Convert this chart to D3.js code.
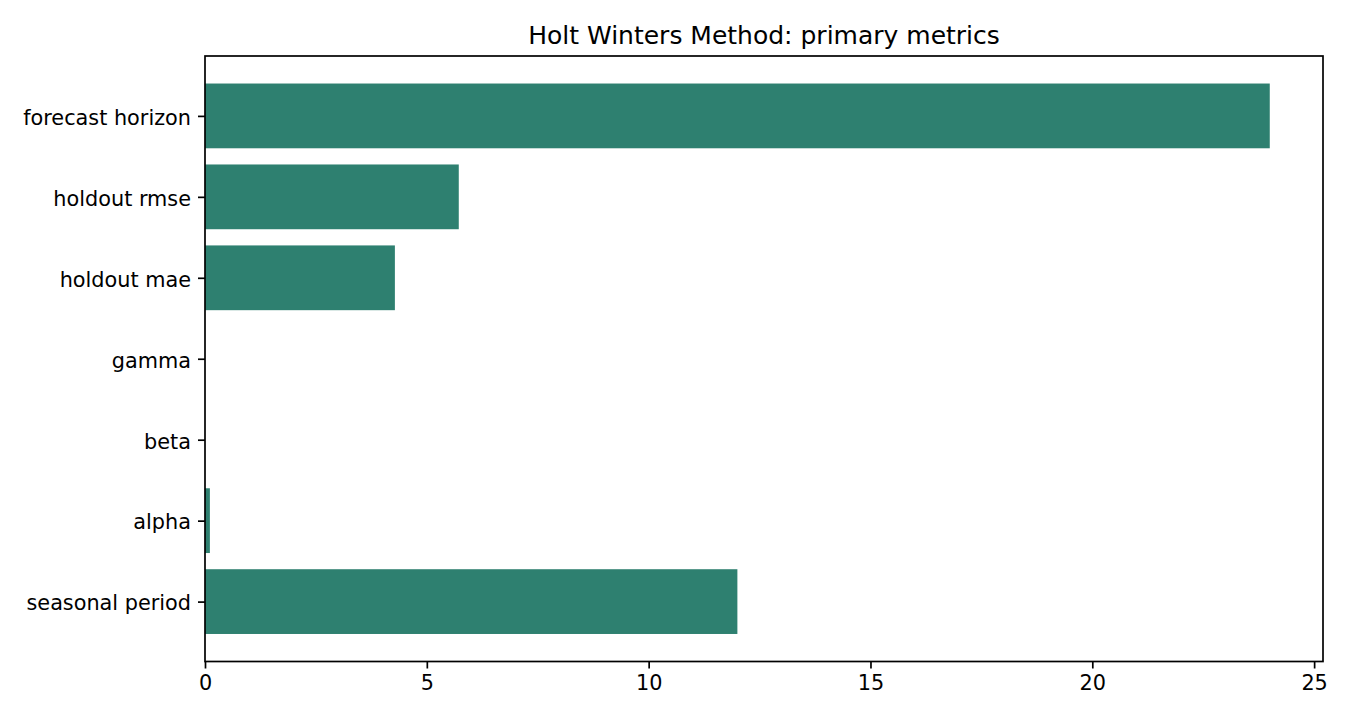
<!DOCTYPE html>
<html>
<head>
<meta charset="utf-8">
<script src="https://cdn.jsdelivr.net/npm/d3@7"></script>
<style>
  body { margin: 0; background: #fff; }
  svg { display: block; font-family: "DejaVu Sans", sans-serif; }
</style>
</head>
<body>
<svg id="chart" width="1350" height="720"></svg>
<script>
// metric names, top to bottom as drawn
const metrics = ["forecast horizon", "holdout rmse", "holdout mae", "gamma", "beta", "alpha", "seasonal period"];
const values = [24, 5.72, 4.28, 0.0, 0.0, 0.11, 12];
const xTicks = [0, 5, 10, 15, 20, 25];

const width = 1350;
const height = 720;
const margin = { top: 56, right: 27, bottom: 58.5, left: 205 };
const barColor = "#2e8070";

const svg = d3.select("#chart");
const plotW = width - margin.left - margin.right;
const plotH = height - margin.top - margin.bottom;

const g = svg.append("g")
    .attr("transform", `translate(${margin.left},${margin.top})`);

// x: 0 .. max + 5% like matplotlib
const x = d3.scaleLinear()
    .domain([0, d3.max(values) * 1.05])
    .range([0, plotW]);

// y: category index, bars 0.8 tall, 5% margins
const n = metrics.length;
const lo = -0.4, hi = (n - 1) + 0.4;
const pad = (hi - lo) * 0.05;
const y = d3.scaleLinear()
    .domain([lo - pad, hi + pad])
    .range([0, plotH]);

g.selectAll("rect.bar")
    .data(values)
    .enter().append("rect")
    .attr("class", "bar")
    .attr("x", x(0))
    .attr("y", (d, i) => y(i - 0.4))
    .attr("width", d => x(d) - x(0))
    .attr("height", y(0.8) - y(0))
    .attr("fill", barColor);

// axes
const xAxis = d3.axisBottom(x)
    .tickValues(xTicks)
    .tickSize(7)
    .tickPadding(7)
    .tickFormat(d3.format("d"));

const gx = g.append("g")
    .attr("transform", `translate(0,${plotH})`)
    .call(xAxis);

const yAxis = d3.axisLeft(y)
    .tickValues(d3.range(n))
    .tickSize(7)
    .tickPadding(7)
    .tickFormat(i => metrics[i]);

const gy = g.append("g").call(yAxis);

[gx, gy].forEach(a => {
    a.select(".domain").remove();
    a.selectAll(".tick line").attr("stroke", "#000").attr("stroke-width", 1.7);
    a.selectAll(".tick text")
        .attr("font-size", "20.8px")
        .attr("font-family", "DejaVu Sans, sans-serif")
        .attr("fill", "#000");
});
// matplotlib centres the labels a touch lower
gy.selectAll(".tick text").attr("dy", "0.4em");

// frame
g.append("rect")
    .attr("x", 0)
    .attr("y", 0)
    .attr("width", plotW)
    .attr("height", plotH)
    .attr("fill", "none")
    .attr("stroke", "#000")
    .attr("stroke-width", 1.7);

// title
svg.append("text")
    .attr("x", margin.left + plotW / 2)
    .attr("y", margin.top - 12.5)
    .attr("text-anchor", "middle")
    .attr("font-size", "25px")
    .attr("fill", "#000")
    .text("Holt Winters Method: primary metrics");
</script>
</body>
</html>
